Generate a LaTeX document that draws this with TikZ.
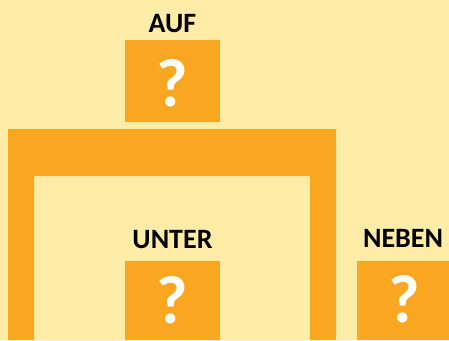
\documentclass[tikz,border=0pt]{standalone}
\usepackage{fontspec}
\setmainfont{Carlito}
\definecolor{bgyellow}{HTML}{FFECA6}
\definecolor{orng}{HTML}{F9A720}
\begin{document}
\begin{tikzpicture}[x=1pt,y=-1pt,
  box/.style={fill=orng, draw=none, inner sep=0pt, outer sep=0pt},
  lbl/.style={font=\fontsize{28}{30}\selectfont\bfseries, text=black, inner sep=0pt, anchor=base},
  qm/.style={font=\fontsize{68}{70}\selectfont\bfseries, text=white, inner sep=0pt, anchor=base}]
\useasboundingbox (0,0) rectangle (449,340);
\fill[bgyellow] (0,0) rectangle (449,340);
% frame
\fill[orng, even odd rule] (8,129) rectangle (336,340) (34,176) rectangle (310,340);
% AUF
\node[box, minimum width=95pt, minimum height=82pt] (auf) at (172.5,81) {};
\node[lbl] (auflbl) at (172.5,32) {AUF};
\node[qm] (aufq) at (172.5,106) {?};
% UNTER
\node[box, minimum width=95pt, minimum height=79pt] (unter) at (172.5,300.5) {};
\node[lbl] (unterlbl) at (172.5,248) {UNTER};
\node[qm] (unterq) at (172.5,323) {?};
% NEBEN
\node[box, minimum width=92pt, minimum height=79pt] (neben) at (403,300.5) {};
\node[lbl] (nebenlbl) at (403,247) {NEBEN};
\node[qm] (nebenq) at (404,322) {?};
\end{tikzpicture}
\end{document}
